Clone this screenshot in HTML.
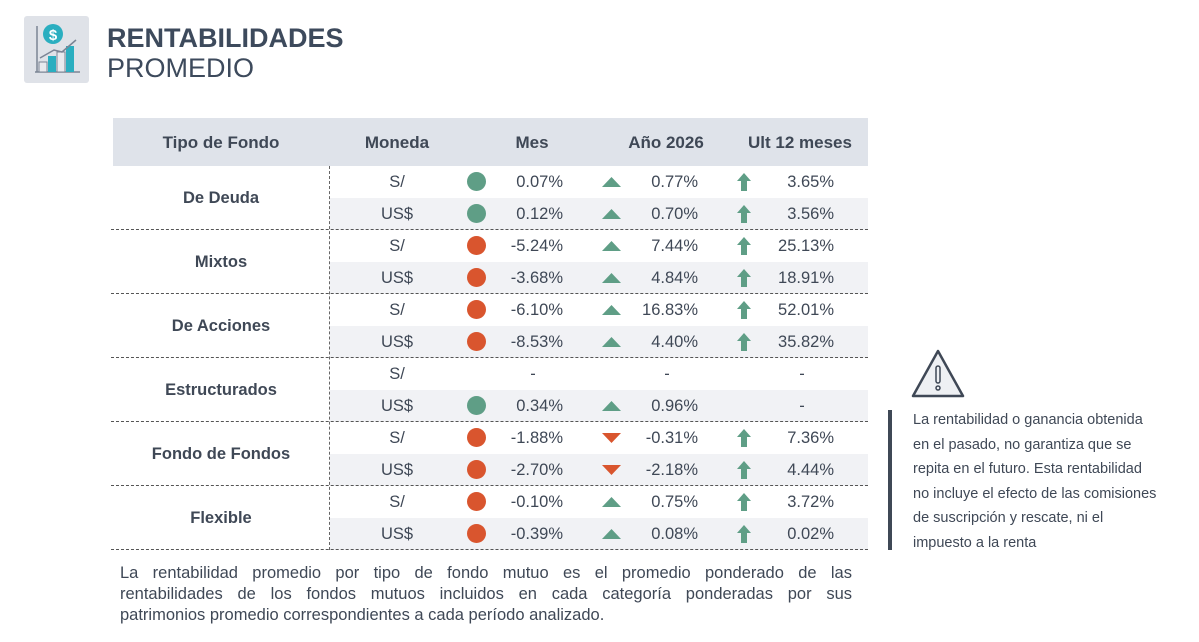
<!DOCTYPE html>
<html><head><meta charset="utf-8"><style>
body{margin:0;width:1199px;height:642px;background:#fff;position:relative;overflow:hidden;font-family:"Liberation Sans","DejaVu Sans",sans-serif;color:#3f4856}
.a{position:absolute}
.t{position:absolute;font-size:16.5px;line-height:32px;white-space:nowrap}
.fl{position:absolute;left:120px;width:732px;font-size:16.5px;line-height:21px;white-space:nowrap}
.j{text-align:justify;text-align-last:justify}
.w{position:absolute;left:913px;font-size:14.5px;line-height:24.5px;white-space:nowrap;color:#3f4856}
</style></head><body>
<div class="a" style="left:24px;top:16px;width:65px;height:67px;background:#dfe2e8;border-radius:3px">
<svg width="65" height="67" viewBox="0 0 65 67"><line x1="13" y1="10" x2="13" y2="56" stroke="#7b8494" stroke-width="1.5"/><line x1="11" y1="56" x2="56" y2="56" stroke="#7b8494" stroke-width="1.5"/>
<circle cx="29" cy="18" r="10" fill="#2aaec0"/><text x="29" y="24" font-size="15" font-weight="bold" fill="#fff" text-anchor="middle" font-family="Liberation Sans">$</text>
<rect x="15" y="46" width="8" height="10" fill="#e9eaee" stroke="#7b8494"/><rect x="24" y="40" width="8" height="16" fill="#2aaec0"/><rect x="33" y="36" width="8" height="20" fill="#e9eaee" stroke="#7b8494"/><rect x="42" y="30" width="8" height="26" fill="#2aaec0"/>
<polyline points="16,42 30,34 38,36 52,24" fill="none" stroke="#7b8494" stroke-width="1.5"/></svg></div>
<div class="a" style="left:107px;top:21px;font-size:27px;font-weight:bold;color:#3d4a5c;line-height:34px">RENTABILIDADES</div>
<div class="a" style="left:107px;top:52px;font-size:27px;color:#3d4a5c;line-height:32px">PROMEDIO</div>
<div class="a" style="left:113px;top:118px;width:755px;height:48px;background:#dfe3ea"></div>
<div class="fl j" style="top:563px">La rentabilidad promedio por tipo de fondo mutuo es el promedio ponderado de las</div>
<div class="fl j" style="top:584px">rentabilidades de los fondos mutuos incluidos en cada categoría ponderadas por sus</div>
<div class="fl" style="top:605px">patrimonios promedio correspondientes a cada período analizado.</div>
<svg class="a" style="left:910px;top:348px" width="56" height="52"><path d="M28 3 L53 48 L3 48 Z" fill="#eef0f3" stroke="#3f4856" stroke-width="2.5" stroke-linejoin="round"/><rect x="26" y="18" width="4" height="17" rx="2" fill="none" stroke="#3f4856" stroke-width="1.5"/><circle cx="28" cy="40" r="2" fill="none" stroke="#3f4856" stroke-width="1.5"/></svg>
<div class="a" style="left:888px;top:410px;width:4px;height:140px;background:#3f4856"></div>
<div class="w" style="top:408px">La rentabilidad o ganancia obtenida</div>
<div class="w" style="top:432.5px">en el pasado, no garantiza que se</div>
<div class="w" style="top:457px">repita en el futuro. Esta rentabilidad</div>
<div class="w" style="top:481.5px">no incluye el efecto de las comisiones</div>
<div class="w" style="top:506px">de suscripción y rescate, ni el</div>
<div class="w" style="top:530.5px">impuesto a la renta</div>
<script>
const headers=["Tipo de Fondo","Moneda","Mes","Año 2026","Ult 12 meses"];
const categories=["De Deuda","Mixtos","De Acciones","Estructurados","Fondo de Fondos","Flexible"];
const currencies=["S/","US$"];
const mes=[0.07,0.12,-5.24,-3.68,-6.10,-8.53,null,0.34,-1.88,-2.70,-0.10,-0.39];
const anio=[0.77,0.70,7.44,4.84,16.83,4.40,null,0.96,-0.31,-2.18,0.75,0.08];
const ult12=[3.65,3.56,25.13,18.91,52.01,35.82,null,null,7.36,4.44,3.72,0.02];
const GREEN="#5f9e86",RED="#d9552e";
const body=document.body;
function add(html,name,inter){const d=document.createElement('div');d.innerHTML=html;const e=d.firstChild;


body.appendChild(e);return e;}
const hx=[221,397,532,666,800];
headers.forEach((h,i)=>{add(`<div class="t" style="left:${hx[i]-100}px;top:127px;width:200px;text-align:center;font-weight:bold;font-size:17px">${h}</div>`,'header-'+h.toLowerCase().replace(/\s+/g,'-'),false);});
function fmt(v){return v==null?'-':v.toFixed(2)+'%';}
const top0=166,rh=32;
for(let i=0;i<12;i++){
  const y=top0+i*rh;
  if(i%2==1) add(`<div class="a" style="left:330px;top:${y}px;width:538px;height:${rh}px;background:#f1f2f5"></div>`,'row-shade',false);
}
categories.forEach((c,g)=>{
  const y=top0+g*2*rh;
  add(`<div class="t" style="left:121px;top:${y+16}px;width:200px;text-align:center;font-weight:bold">${c}</div>`,'category-label',false);
  add(`<div class="a" style="left:111px;top:${y+2*rh-1}px;width:757px;border-top:1px dashed #555"></div>`,'group-divider',false);
});
add(`<div class="a" style="left:329px;top:166px;height:384px;border-left:1px dashed #666"></div>`,'column-divider',false);
for(let i=0;i<12;i++){
  const y=top0+i*rh;
  add(`<div class="t" style="left:347px;top:${y}px;width:100px;text-align:center">${currencies[i%2]}</div>`,'currency-cell',false);
  if(mes[i]!=null){add(`<div class="a" style="left:467px;top:${y+6}px;width:19px;height:19px;border-radius:50%;background:${mes[i]>=0?GREEN:RED}"></div>`,'mes-indicator',false);}
  add(`<div class="t" style="left:${mes[i]==null?483:497}px;top:${y}px;width:${mes[i]==null?100:66}px;text-align:${mes[i]==null?'center':'right'}">${fmt(mes[i])}</div>`,'mes-value',false);
  if(anio[i]!=null){const up=anio[i]>=0;
    add(`<svg class="a" style="left:601px;top:${y+9}px" width="21" height="14"><path d="${up?'M10.5 2 L20 12 L1 12 Z':'M1 2 L20 2 L10.5 12 Z'}" fill="${up?GREEN:RED}"/></svg>`,'anio-indicator',false);}
  add(`<div class="t" style="left:${anio[i]==null?617:632}px;top:${y}px;width:${anio[i]==null?100:66}px;text-align:${anio[i]==null?'center':'right'}">${fmt(anio[i])}</div>`,'anio-value',false);
  if(ult12[i]!=null){add(`<svg class="a" style="left:736px;top:${y+6}px" width="16" height="20"><path d="M8 1 L15 9 L11 9 L11 19 L5 19 L5 9 L1 9 Z" fill="${GREEN}"/></svg>`,'ult12-indicator',false);}
  add(`<div class="t" style="left:${ult12[i]==null?752:768}px;top:${y}px;width:${ult12[i]==null?100:66}px;text-align:${ult12[i]==null?'center':'right'}">${fmt(ult12[i])}</div>`,'ult12-value',false);
}
</script>
</body></html>
